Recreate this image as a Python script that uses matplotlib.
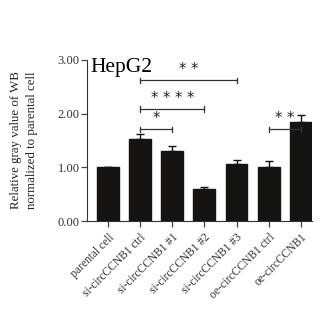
import matplotlib
matplotlib.use('Agg')
import matplotlib.pyplot as plt

plt.rcParams['font.family'] = ['Liberation Serif', 'DejaVu Serif']

groups = ['parental cell', 'si-circCCNB1 ctrl', 'si-circCCNB1 #1', 'si-circCCNB1 #2',
          'si-circCCNB1 #3', 'oe-circCCNB1 ctrl', 'oe-circCCNB1']
values = [1.00, 1.52, 1.30, 0.59, 1.07, 1.00, 1.84]
errors = [0.00, 0.10, 0.10, 0.04, 0.06, 0.12, 0.13]
# significance brackets: (start, end, height, label)
sig_from = [1, 1, 1, 5]
sig_to = [4, 3, 2, 6]
sig_y = [2.62, 2.09, 1.71, 1.71]
sig_text = ['* *', '* * * *', '*', '* *']

fig = plt.figure(figsize=(3.24, 3.14), dpi=100)
ax = fig.add_axes([0.269, 0.296, 0.694, 0.513])

x = range(len(groups))
ax.bar(x, values, width=0.68, color='#161413', edgecolor='#161413')
ax.errorbar(x, values, yerr=[[0] * len(errors), errors], fmt='none',
            ecolor='#161413', elinewidth=1, capsize=3, capthick=1)

for a, b, h, t in zip(sig_from, sig_to, sig_y, sig_text):
    ax.plot([a, b], [h, h], color='#333333', lw=0.9)
    ax.plot([a, a], [h - 0.05, h + 0.05], color='#333333', lw=0.9)
    ax.plot([b, b], [h - 0.05, h + 0.05], color='#333333', lw=0.9)
    ax.text((a + b) / 2, h + 0.06, t, ha='center', va='bottom', fontsize=10.5,
            family='DejaVu Sans', color='#222222')

ax.set_xlim(-0.65, 6.35)
ax.set_ylim(0, 3)
ax.set_yticks([0, 1, 2, 3])
ax.set_yticklabels(['0.00', '1.00', '2.00', '3.00'], fontsize=9, color='#444444')
ax.set_xticks(list(x))
ax.set_xticklabels(groups, rotation=45, ha='right', rotation_mode='anchor', fontsize=8.3,
                   color='#333333')
ax.tick_params(direction='out', length=4, width=0.9, colors='#444444', labelcolor='#333333')
ax.tick_params(axis='y', pad=1.5)
ax.spines['top'].set_visible(False)
ax.spines['right'].set_visible(False)
ax.spines['left'].set_color('#333333')
ax.spines['bottom'].set_color('#333333')
ax.set_ylabel('Relative gray value of WB\nnormalized to parental cell', fontsize=9.3,
              labelpad=14, linespacing=1.5, color='#222222')
ax.text(0.015, 1.01, 'HepG2', transform=ax.transAxes, fontsize=15.5, va='top', ha='left')

fig.savefig('out.png', dpi=100)
